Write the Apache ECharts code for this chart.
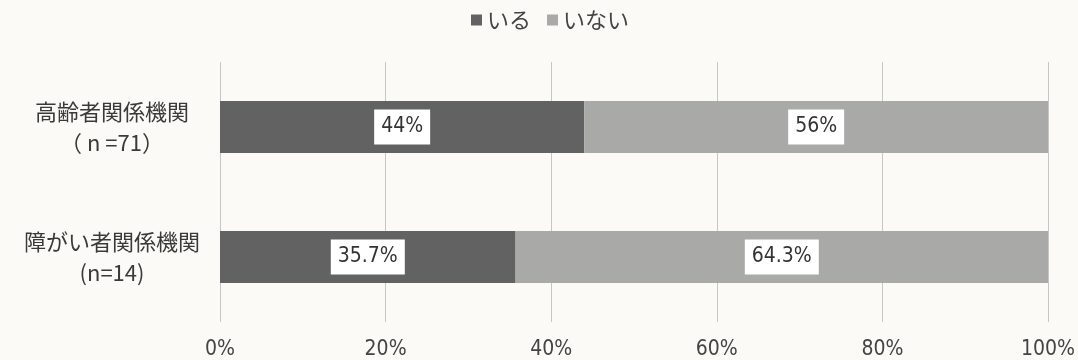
<!DOCTYPE html>
<html>
<head>
<meta charset="utf-8">
<script src="https://cdn.jsdelivr.net/npm/echarts@6/dist/echarts.min.js"></script>
<style>
  html, body { margin: 0; padding: 0; background: #fbfaf6; }
  #chart { width: 1078px; height: 360px; }
</style>
</head>
<body>
<div id="chart"></div>
<script>
// Organisation groups (top to bottom) and share of respondents
const categories = ['高齢者関係機関\n（ n =71）', '障がい者関係機関\n(n=14)'];
const seriesNames = ['いる', 'いない'];
const valuesYes = [44, 35.7];
const valuesNo = [56, 64.3];
const xTicks = [0, 20, 40, 60, 80, 100];

const narrowFont = '"DejaVu Sans Condensed", "Liberation Sans Narrow", Roboto, sans-serif';
const cjkFont = '"Noto Sans CJK JP", sans-serif';

const dataLabel = {
  show: true,
  position: 'inside',
  formatter: p => p.value + '%',
  backgroundColor: '#ffffff',
  color: '#333',
  fontSize: 21,
  fontFamily: narrowFont,
  padding: [8, 7, 6, 7]
};

const chart = echarts.init(document.getElementById('chart'));
chart.setOption({
  backgroundColor: '#fbfaf6',
  animation: false,
  legend: {
    top: 4,
    left: 466,
    itemWidth: 11,
    itemHeight: 11,
    itemGap: 16,
    icon: 'rect',
    textStyle: { fontSize: 22, color: '#444', fontFamily: cjkFont },
    data: seriesNames
  },
  grid: { left: 220, right: 27, top: 62, bottom: 38, containLabel: false },
  xAxis: {
    type: 'value',
    min: 0,
    max: 100,
    interval: 20,
    axisLine: { show: false },
    axisTick: { show: false },
    splitLine: { show: true, lineStyle: { color: '#c6c6c3', width: 1 } },
    axisLabel: {
      formatter: v => xTicks.includes(v) ? v + '%' : '',
      fontSize: 21,
      color: '#444',
      fontFamily: narrowFont,
      margin: 17
    }
  },
  yAxis: {
    type: 'category',
    inverse: true,
    data: categories,
    axisLine: { show: false },
    axisTick: { show: false },
    axisLabel: {
      fontSize: 22,
      color: '#3a3a3a',
      lineHeight: 31,
      align: 'center',
      margin: 108,
      fontFamily: cjkFont
    }
  },
  series: [
    {
      name: seriesNames[0],
      type: 'bar',
      stack: 'total',
      barWidth: 52,
      data: valuesYes,
      itemStyle: { color: '#626262' },
      label: dataLabel
    },
    {
      name: seriesNames[1],
      type: 'bar',
      stack: 'total',
      barWidth: 52,
      data: valuesNo,
      itemStyle: { color: '#a9a9a7' },
      label: dataLabel
    }
  ]
});
</script>
</body>
</html>
